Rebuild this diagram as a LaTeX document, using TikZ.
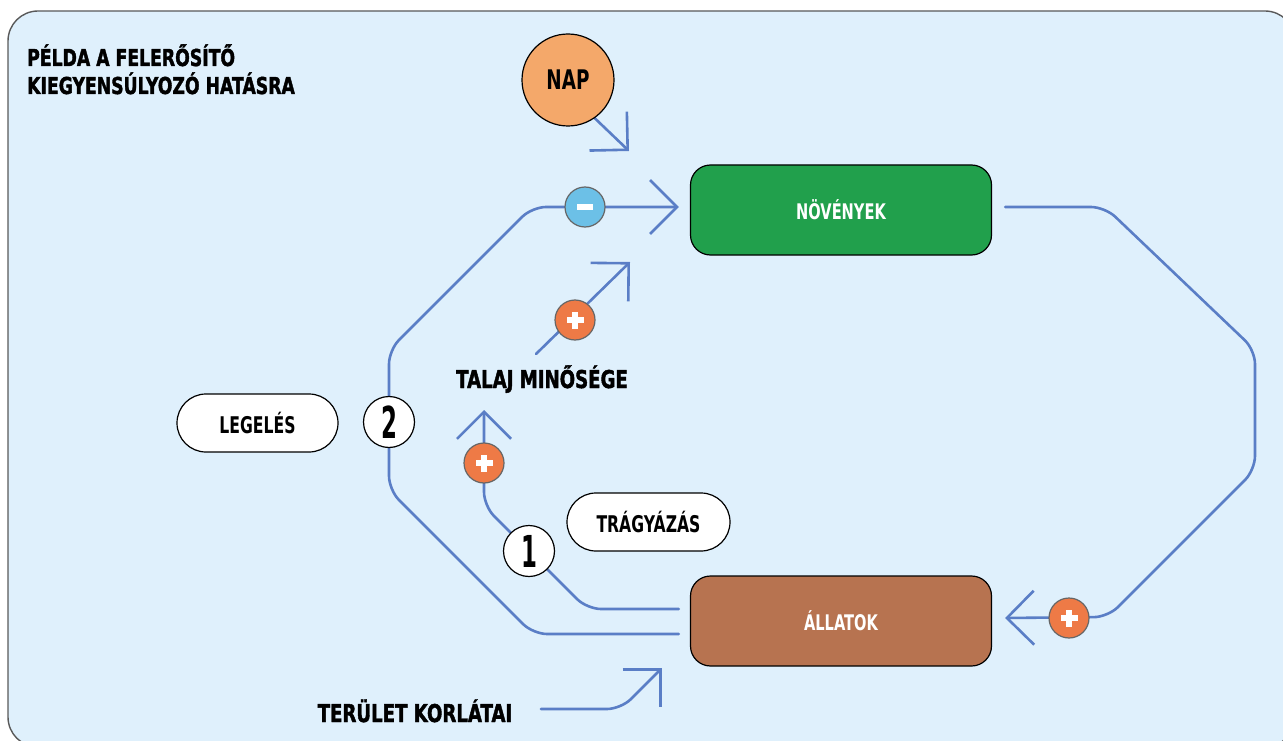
\documentclass[tikz,border=0pt]{standalone}
\usepackage{fontspec}
\newfontfamily\labfont[FakeStretch=0.68]{DejaVu Sans}
\newfontfamily\hvyfont[FakeStretch=0.74,FakeBold=1.6]{DejaVu Sans}
\newfontfamily\digfont[FakeStretch=0.52]{DejaVu Sans}
\usetikzlibrary{arrows.meta,calc}
\definecolor{bgc}{HTML}{DFF0FC}
\definecolor{lnc}{HTML}{5A7EC6}
\definecolor{grn}{HTML}{21A04C}
\definecolor{brn}{HTML}{B77350}
\definecolor{sun}{HTML}{F4A86A}
\definecolor{plc}{HTML}{EE7A46}
\definecolor{mnc}{HTML}{6CC0E7}
\pgfdeclarelayer{lines}
\pgfsetlayers{lines,main}
\newcommand\plusmark[1]{%
  \fill[white] ($(#1)+(-8.5,-2.8)$) rectangle ($(#1)+(8.5,2.8)$);
  \fill[white] ($(#1)+(-2.8,-8.5)$) rectangle ($(#1)+(2.8,8.5)$);}
\newcommand\minusmark[1]{%
  \fill[white] ($(#1)+(-8,-2.8)$) rectangle ($(#1)+(8,2.8)$);}
\begin{document}
\begin{tikzpicture}[x=1pt,y=-1pt,
  frame/.style={draw=black!65,line width=1.4pt,fill=bgc,rounded corners=30pt},
  conn/.style={draw=lnc,line width=2.6pt,rounded corners=14pt,line cap=round,line join=round,
    -{Straight Barb[length=27pt,width=54pt]}},
  bigbox/.style={rectangle,rounded corners=20pt,draw=black,line width=1.2pt,minimum width=301pt,
    minimum height=90pt,text=white,font=\labfont\bfseries\fontsize{21.5}{26}\selectfont},
  pill/.style={rectangle,rounded corners=29pt,draw=black,line width=1.2pt,fill=white,
    minimum height=58pt,font=\labfont\bfseries\fontsize{23}{26}\selectfont},
  numc/.style={circle,draw=black,line width=1.2pt,fill=white,minimum size=51pt,inner sep=0pt,
    font=\digfont\bfseries\fontsize{44}{46}\selectfont},
  sgn/.style={circle,draw=black!60,line width=1.2pt,minimum size=40pt,inner sep=0pt},
  heavy/.style={font=\hvyfont\bfseries\fontsize{24.5}{28}\selectfont,inner sep=0pt},
  ttl/.style={font=\hvyfont\bfseries\fontsize{23.3}{28}\selectfont,inner sep=0pt}
]
\useasboundingbox (0,0) rectangle (1283,741);
\clip (0,0) rectangle (1283,741);

% nodes
\node[bigbox,fill=grn] (nov) at (841,210) {NÖVÉNYEK};
\node[bigbox,fill=brn] (all) at (841,621) {ÁLLATOK};
\node[circle,draw=black,line width=1.2pt,fill=sun,minimum size=92pt,inner sep=0pt,
      font=\labfont\bfseries\fontsize{27}{30}\selectfont] (nap) at (568,80) {NAP};
\node[pill,minimum width=161pt] (leg) at (257.5,423) {LEGELÉS};
\node[pill,minimum width=163pt] (trg) at (648.5,522) {TRÁGYÁZÁS};
\node[ttl,anchor=base west] (ti1) at (27,66) {PÉLDA A FELERŐSÍTŐ};
\node[ttl,anchor=base west] (ti2) at (27,94) {KIEGYENSÚLYOZÓ HATÁSRA};
\node[heavy,anchor=base] (tal) at (542,388) {TALAJ MINŐSÉGE};
\node[heavy,anchor=base] (ter) at (415,722) {TERÜLET KORLÁTAI};

\node[numc] (n2) at (389,422) {2};
\node[numc] (n1) at (529,551) {1};
\node[sgn,fill=mnc] (m1) at (585,207) {};
\node[sgn,fill=plc] (p1) at (575,320) {};
\node[sgn,fill=plc] (p2) at (484,463) {};
\node[sgn,fill=plc] (p3) at (1069,618) {};
\minusmark{m1}
\plusmark{p1}
\plusmark{p2}
\plusmark{p3}

% free connector ends
\coordinate (napTip) at (629,151);
\coordinate (t1) at (484,410);
\coordinate (talS) at (536,354);
\coordinate (talT) at (630,262);
\coordinate (terS) at (541,709);
\coordinate (terT) at (662,668);

\begin{pgfonlayer}{lines}
\draw[frame] (8,11) rectangle (1295,747);
% sun
\draw[conn] (nap.-55) -- (napTip);
% loop 2 (grazing)
\draw[conn] ($(all.west)+(-11,13)$) -- (533,634) -- (389,490) -- (389,350) -- (532,207)
  -- ($(nov.west)+(-11,-3)$);
% loop 1 (manure)
\draw[conn] ($(all.west)+(-11,-12)$) -- (587,609) -- (484,506) -- (t1);
% soil quality
\draw[conn] (talS) -- (talT);
% plants -> animals
\draw[conn] ($(nov.east)+(13,-3)$) -- (1105,207) -- (1255,350) -- (1255,470) -- (1108,617)
  -- ($(all.east)+(13,-3)$);
% area limits
\draw[conn] (terS) -- (621,709) -- (terT);
\end{pgfonlayer}
\end{tikzpicture}
\end{document}
